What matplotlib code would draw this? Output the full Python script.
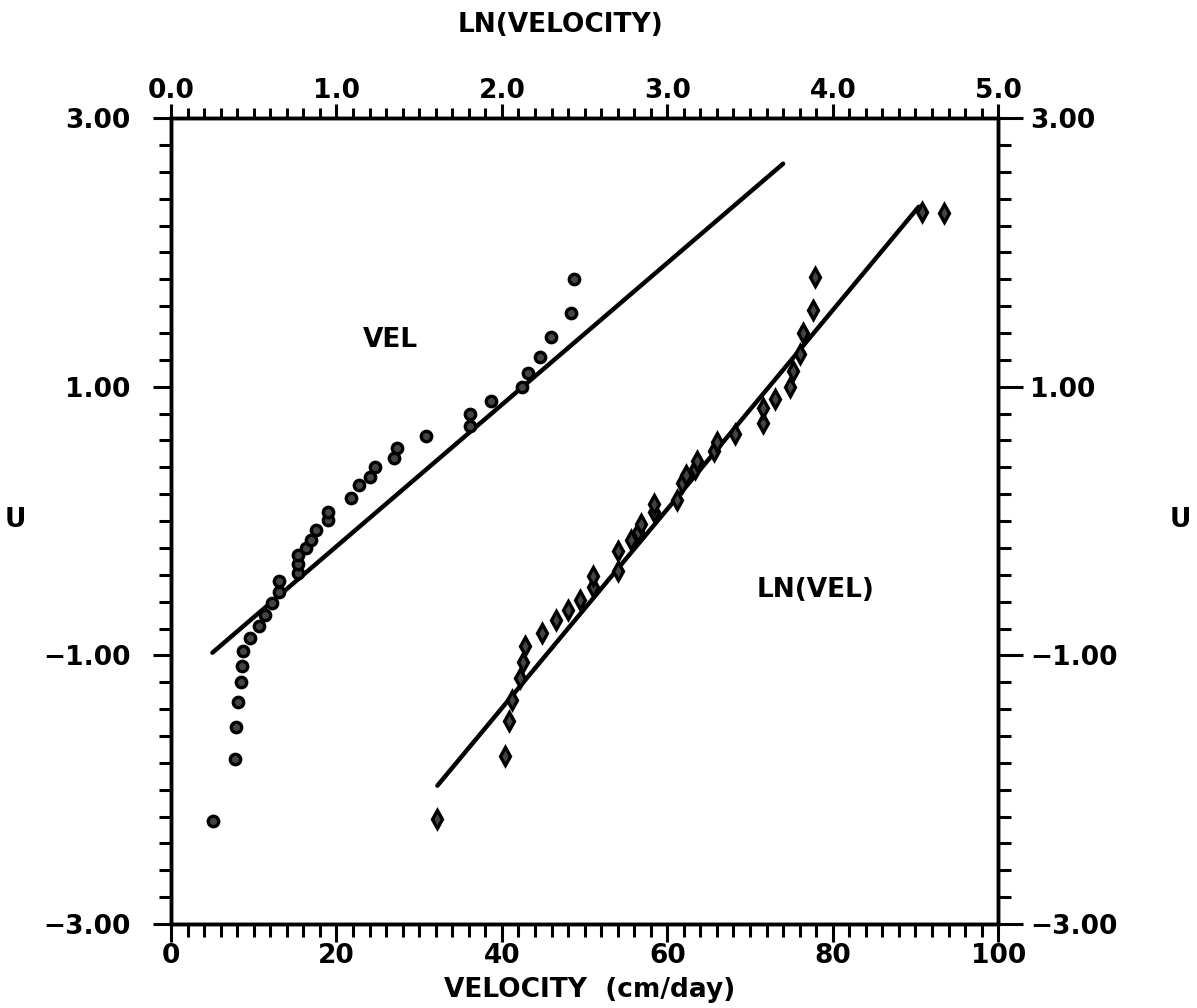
import matplotlib
matplotlib.use("Agg")
import matplotlib.pyplot as plt
from matplotlib.ticker import MultipleLocator, FixedLocator, FuncFormatter

# ---------------- data ----------------
vel_x = [5.1, 7.7, 7.9, 8.1, 8.45, 8.6, 8.7, 9.6, 10.6, 11.4, 12.2, 13.1, 13.0,
         15.3, 15.3, 15.3, 16.3, 16.9, 17.5, 19.0, 19.0, 21.8, 22.7, 24.1, 24.7,
         26.9, 27.3, 30.8, 36.2, 36.2, 38.7, 42.4, 43.2, 44.6, 45.9, 48.3, 48.7]
vel_u = [-2.23, -1.77, -1.53, -1.35, -1.20, -1.08, -0.97, -0.87, -0.78, -0.70,
         -0.61, -0.53, -0.45, -0.39, -0.32, -0.25, -0.20, -0.14, -0.07, 0.01,
         0.07, 0.17, 0.27, 0.33, 0.40, 0.47, 0.54, 0.63, 0.71, 0.80, 0.89, 1.00,
         1.10, 1.22, 1.37, 1.55, 1.80]

lnvel_x = [1.61, 2.02, 2.04, 2.06, 2.11, 2.13, 2.14, 2.24, 2.33, 2.40, 2.47,
           2.55, 2.55, 2.70, 2.70, 2.78, 2.82, 2.84, 2.92, 2.92, 3.06, 3.09,
           3.11, 3.17, 3.18, 3.28, 3.30, 3.41, 3.58, 3.58, 3.65, 3.74, 3.76,
           3.80, 3.82, 3.88, 3.89, 4.54, 4.67]
lnvel_u = [-2.22, -1.75, -1.49, -1.33, -1.17, -1.05, -0.93, -0.83, -0.74, -0.66,
           -0.59, -0.49, -0.41, -0.37, -0.22, -0.14, -0.08, -0.02, 0.07, 0.13,
           0.16, 0.28, 0.34, 0.39, 0.45, 0.52, 0.59, 0.65, 0.73, 0.84, 0.91,
           1.00, 1.12, 1.24, 1.40, 1.57, 1.82, 2.30, 2.29]

vel_fit_x = [5.0, 74.0]
vel_fit_u = [-0.98, 2.66]
lnvel_fit_x = [1.61, 4.52]
lnvel_fit_u = [-1.97, 2.34]

bottom_ticks = [0, 20, 40, 60, 80, 100]
top_ticks = [0.0, 1.0, 2.0, 3.0, 4.0, 5.0]
u_ticks = [-3.0, -1.0, 1.0, 3.0]

# ---------------- figure ----------------
FONT = "DejaVu Sans"
plt.rcParams["font.family"] = [FONT]
plt.rcParams["font.weight"] = "bold"

fig = plt.figure(figsize=(11.97, 10.08), dpi=100)
ax = fig.add_axes([0.1429, 0.0833, 0.691, 0.7996])
ax.set_xlim(0, 100)
ax.set_ylim(-3, 3)

for s in ax.spines.values():
    s.set_linewidth(2.4)

ufmt = FuncFormatter(lambda v, p: f"{v:.2f}".replace("-", "\u2212"))

ax.xaxis.set_major_locator(FixedLocator(bottom_ticks))
ax.xaxis.set_minor_locator(MultipleLocator(2))
ax.yaxis.set_major_locator(FixedLocator(u_ticks))
ax.yaxis.set_minor_locator(MultipleLocator(0.2))
ax.yaxis.set_major_formatter(ufmt)
ax.tick_params(axis="both", which="both", direction="out", width=2.2, labelsize=19)
ax.tick_params(axis="both", which="major", length=13)
ax.tick_params(axis="both", which="minor", length=9)
ax.tick_params(axis="y", which="both", pad=16)
ax.tick_params(axis="x", which="both", pad=1)

# right axis (same U scale)
axr = ax.twinx()
axr.set_ylim(-3, 3)
axr.yaxis.set_major_locator(FixedLocator(u_ticks))
axr.yaxis.set_minor_locator(MultipleLocator(0.2))
axr.yaxis.set_major_formatter(ufmt)
axr.tick_params(axis="y", which="both", direction="out", width=2.2, labelsize=19, pad=5)
axr.tick_params(axis="y", which="major", length=18)
axr.tick_params(axis="y", which="minor", length=9)

# top axis (ln velocity)
axt = ax.twiny()
axt.set_xlim(0, 5)
axt.xaxis.set_major_locator(FixedLocator(top_ticks))
axt.xaxis.set_minor_locator(MultipleLocator(0.1))
axt.xaxis.set_major_formatter(FuncFormatter(lambda v, p: f"{v:.1f}"))
axt.tick_params(axis="x", which="both", direction="out", width=2.2, labelsize=19, pad=0)
axt.tick_params(axis="x", which="major", length=10)
axt.tick_params(axis="x", which="minor", length=7)
for a in (axr, axt):
    for s in a.spines.values():
        s.set_linewidth(2.4)

# data on bottom axis
ax.plot(vel_fit_x, vel_fit_u, color="black", lw=3.2, solid_capstyle="round")
ax.plot(vel_x, vel_u, linestyle="none", marker="o", ms=7.5, mfc="#444444",
        mec="black", mew=2.4)

# data on top axis
axt.plot(lnvel_fit_x, lnvel_fit_u, color="black", lw=3.2, solid_capstyle="round")
axt.plot(lnvel_x, lnvel_u, linestyle="none", marker="d", ms=9, mfc="#444444",
         mec="black", mew=2.4)

ax.text(26.5, 1.35, "VEL", ha="center", va="center", fontsize=19, fontweight="bold")
ax.text(77.9, -0.51, "LN(VEL)", ha="center", va="center", fontsize=19, fontweight="bold")

# axis labels
fig.text(15 / 1197, 1 - 520 / 1008, "U", ha="center", va="center", fontsize=19, fontweight="bold")
fig.text(1180 / 1197, 1 - 520 / 1008, "U", ha="center", va="center", fontsize=19, fontweight="bold")
fig.text(560 / 1197, 1 - 25 / 1008, "LN(VELOCITY)", ha="center", va="center", fontsize=19, fontweight="bold")
fig.text(590 / 1197, 1 - 990 / 1008, "VELOCITY  (cm/day)", ha="center", va="center", fontsize=19, fontweight="bold")

fig.savefig("out.png", dpi=100, facecolor="white")
